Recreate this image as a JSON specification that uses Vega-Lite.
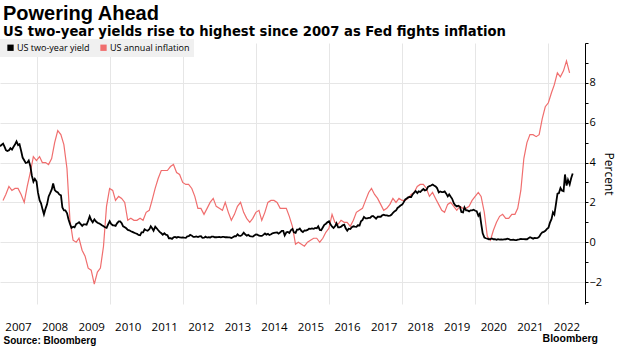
{
  "$schema": "https://vega.github.io/schema/vega-lite/v6.json",
  "width": 585,
  "height": 261,
  "padding": {"left": 0, "top": 3, "right": 0, "bottom": 0},
  "background": "white",
  "title": {
    "text": "Powering Ahead",
    "subtitle": "US two-year yields rise to highest since 2007 as Fed fights inflation",
    "anchor": "start",
    "font": "Liberation Sans",
    "fontSize": 20,
    "fontWeight": "bold",
    "color": "#000000",
    "subtitleFont": "DejaVu Sans",
    "subtitleFontSize": 13.2,
    "subtitleFontWeight": "bold",
    "subtitleColor": "#000000",
    "subtitlePadding": 2,
    "offset": 1,
    "dx": 3
  },
  "config": {
    "view": {"stroke": null},
    "axis": {"labelFont": "Open Sans", "titleFont": "Liberation Sans"}
  },
  "resolve": {"axis": {"x": "independent", "y": "independent"}},
  "layer": [
    {
      "data": {
        "format": {"parse": {"d": "date:'%Y-%m-%d'"}},
        "values": [
          {"d":"2007-01-31","v":2.1},{"d":"2007-02-28","v":2.4},{"d":"2007-03-31","v":2.8},{"d":"2007-04-30","v":2.6},{"d":"2007-05-31","v":2.7},{"d":"2007-06-30","v":2.7},{"d":"2007-07-31","v":2.4},{"d":"2007-08-31","v":2.0},{"d":"2007-09-30","v":2.8},{"d":"2007-10-31","v":3.5},{"d":"2007-11-30","v":4.3},{"d":"2007-12-31","v":4.1},
          {"d":"2008-01-31","v":4.3},{"d":"2008-02-28","v":4.0},{"d":"2008-03-31","v":4.0},{"d":"2008-04-30","v":3.9},{"d":"2008-05-31","v":4.2},{"d":"2008-06-30","v":5.0},{"d":"2008-07-31","v":5.6},{"d":"2008-08-31","v":5.4},{"d":"2008-09-30","v":4.9},{"d":"2008-10-31","v":3.7},{"d":"2008-11-30","v":1.1},{"d":"2008-12-31","v":0.1},
          {"d":"2009-01-31","v":0.0},{"d":"2009-02-28","v":0.2},{"d":"2009-03-31","v":-0.4},{"d":"2009-04-30","v":-0.7},{"d":"2009-05-31","v":-1.3},{"d":"2009-06-30","v":-1.4},{"d":"2009-07-31","v":-2.1},{"d":"2009-08-31","v":-1.5},{"d":"2009-09-30","v":-1.3},{"d":"2009-10-31","v":-0.2},{"d":"2009-11-30","v":1.8},{"d":"2009-12-31","v":2.7},
          {"d":"2010-01-31","v":2.6},{"d":"2010-02-28","v":2.1},{"d":"2010-03-31","v":2.3},{"d":"2010-04-30","v":2.2},{"d":"2010-05-31","v":2.0},{"d":"2010-06-30","v":1.1},{"d":"2010-07-31","v":1.2},{"d":"2010-08-31","v":1.1},{"d":"2010-09-30","v":1.1},{"d":"2010-10-31","v":1.2},{"d":"2010-11-30","v":1.1},{"d":"2010-12-31","v":1.5},
          {"d":"2011-01-31","v":1.6},{"d":"2011-02-28","v":2.1},{"d":"2011-03-31","v":2.7},{"d":"2011-04-30","v":3.2},{"d":"2011-05-31","v":3.6},{"d":"2011-06-30","v":3.6},{"d":"2011-07-31","v":3.6},{"d":"2011-08-31","v":3.8},{"d":"2011-09-30","v":3.9},{"d":"2011-10-31","v":3.5},{"d":"2011-11-30","v":3.4},{"d":"2011-12-31","v":3.0},
          {"d":"2012-01-31","v":2.9},{"d":"2012-02-28","v":2.9},{"d":"2012-03-31","v":2.7},{"d":"2012-04-30","v":2.3},{"d":"2012-05-31","v":1.7},{"d":"2012-06-30","v":1.7},{"d":"2012-07-31","v":1.4},{"d":"2012-08-31","v":1.7},{"d":"2012-09-30","v":2.0},{"d":"2012-10-31","v":2.2},{"d":"2012-11-30","v":1.8},{"d":"2012-12-31","v":1.7},
          {"d":"2013-01-31","v":1.6},{"d":"2013-02-28","v":2.0},{"d":"2013-03-31","v":1.5},{"d":"2013-04-30","v":1.1},{"d":"2013-05-31","v":1.4},{"d":"2013-06-30","v":1.8},{"d":"2013-07-31","v":2.0},{"d":"2013-08-31","v":1.5},{"d":"2013-09-30","v":1.2},{"d":"2013-10-31","v":1.0},{"d":"2013-11-30","v":1.2},{"d":"2013-12-31","v":1.5},
          {"d":"2014-01-31","v":1.6},{"d":"2014-02-28","v":1.1},{"d":"2014-03-31","v":1.5},{"d":"2014-04-30","v":2.0},{"d":"2014-05-31","v":2.1},{"d":"2014-06-30","v":2.1},{"d":"2014-07-31","v":2.0},{"d":"2014-08-31","v":1.7},{"d":"2014-09-30","v":1.7},{"d":"2014-10-31","v":1.7},{"d":"2014-11-30","v":1.3},{"d":"2014-12-31","v":0.8},
          {"d":"2015-01-31","v":-0.1},{"d":"2015-02-28","v":0.0},{"d":"2015-03-31","v":-0.1},{"d":"2015-04-30","v":-0.2},{"d":"2015-05-31","v":0.0},{"d":"2015-06-30","v":0.1},{"d":"2015-07-31","v":0.2},{"d":"2015-08-31","v":0.2},{"d":"2015-09-30","v":0.0},{"d":"2015-10-31","v":0.2},{"d":"2015-11-30","v":0.5},{"d":"2015-12-31","v":0.7},
          {"d":"2016-01-31","v":1.4},{"d":"2016-02-28","v":1.0},{"d":"2016-03-31","v":0.9},{"d":"2016-04-30","v":1.1},{"d":"2016-05-31","v":1.0},{"d":"2016-06-30","v":1.0},{"d":"2016-07-31","v":0.8},{"d":"2016-08-31","v":1.1},{"d":"2016-09-30","v":1.5},{"d":"2016-10-31","v":1.6},{"d":"2016-11-30","v":1.7},{"d":"2016-12-31","v":2.1},
          {"d":"2017-01-31","v":2.5},{"d":"2017-02-28","v":2.7},{"d":"2017-03-31","v":2.4},{"d":"2017-04-30","v":2.2},{"d":"2017-05-31","v":1.9},{"d":"2017-06-30","v":1.6},{"d":"2017-07-31","v":1.7},{"d":"2017-08-31","v":1.9},{"d":"2017-09-30","v":2.2},{"d":"2017-10-31","v":2.0},{"d":"2017-11-30","v":2.2},{"d":"2017-12-31","v":2.1},
          {"d":"2018-01-31","v":2.1},{"d":"2018-02-28","v":2.2},{"d":"2018-03-31","v":2.4},{"d":"2018-04-30","v":2.5},{"d":"2018-05-31","v":2.8},{"d":"2018-06-30","v":2.9},{"d":"2018-07-31","v":2.9},{"d":"2018-08-31","v":2.7},{"d":"2018-09-30","v":2.3},{"d":"2018-10-31","v":2.5},{"d":"2018-11-30","v":2.2},{"d":"2018-12-31","v":1.9},
          {"d":"2019-01-31","v":1.6},{"d":"2019-02-28","v":1.5},{"d":"2019-03-31","v":1.9},{"d":"2019-04-30","v":2.0},{"d":"2019-05-31","v":1.8},{"d":"2019-06-30","v":1.6},{"d":"2019-07-31","v":1.8},{"d":"2019-08-31","v":1.7},{"d":"2019-09-30","v":1.7},{"d":"2019-10-31","v":1.8},{"d":"2019-11-30","v":2.1},{"d":"2019-12-31","v":2.3},
          {"d":"2020-01-31","v":2.5},{"d":"2020-02-28","v":2.3},{"d":"2020-03-31","v":1.5},{"d":"2020-04-30","v":0.3},{"d":"2020-05-31","v":0.1},{"d":"2020-06-30","v":0.6},{"d":"2020-07-31","v":1.0},{"d":"2020-08-31","v":1.3},{"d":"2020-09-30","v":1.4},{"d":"2020-10-31","v":1.2},{"d":"2020-11-30","v":1.2},{"d":"2020-12-31","v":1.4},
          {"d":"2021-01-31","v":1.4},{"d":"2021-02-28","v":1.7},{"d":"2021-03-31","v":2.6},{"d":"2021-04-30","v":4.2},{"d":"2021-05-31","v":5.0},{"d":"2021-06-30","v":5.4},{"d":"2021-07-31","v":5.4},{"d":"2021-08-31","v":5.3},{"d":"2021-09-30","v":5.4},{"d":"2021-10-31","v":6.2},{"d":"2021-11-30","v":6.8},{"d":"2021-12-31","v":7.0},
          {"d":"2022-01-31","v":7.5},{"d":"2022-02-28","v":7.9},{"d":"2022-03-31","v":8.5},{"d":"2022-04-30","v":8.3},{"d":"2022-05-31","v":8.6},{"d":"2022-06-30","v":9.1},{"d":"2022-07-31","v":8.5}
        ]
      },
      "mark": {"type": "line", "strokeWidth": 1.2, "clip": true},
      "encoding": {
        "x": {
          "field": "d",
          "type": "temporal",
          "scale": {"domain": [{"year": 2007}, {"year": 2023}]},
          "axis": {
            "orient": "bottom",
            "values": [{"year":2008},{"year":2010},{"year":2012},{"year":2014},{"year":2016},{"year":2018},{"year":2020},{"year":2022}],
            "grid": true,
            "gridColor": "#e6e6e6",
            "gridWidth": 1,
            "labels": false,
            "ticks": false,
            "domain": false,
            "title": null
          }
        },
        "y": {
          "field": "v",
          "type": "quantitative",
          "scale": {"domain": [-3.1, 10], "nice": false, "zero": false},
          "axis": {
            "orient": "right",
            "values": [-2, 0, 2, 4, 6, 8],
            "labelFontSize": 11,
            "labelColor": "#000000",
            "labelPadding": 1,
            "labelOverlap": false,
            "domainColor": "#000000",
            "tickColor": "#000000",
            "tickSize": 3,
            "grid": true,
            "gridColor": "#e6e6e6",
            "title": "Percent",
            "titleFont": "Open Sans",
            "titleFontSize": 12,
            "titleFontWeight": "normal",
            "titleColor": "#000000",
            "titlePadding": 0
          }
        },
        "color": {
          "datum": "US annual inflation",
          "scale": {"domain": ["US two-year yield", "US annual inflation"], "range": ["#000000", "#f06e6e"]},
          "legend": {
            "title": null,
            "orient": "none",
            "legendX": 0,
            "legendY": -4,
            "direction": "horizontal",
            "fillColor": "#f0f0f0",
            "padding": 4,
            "symbolType": "square",
            "symbolSize": 40,
            "symbolOffset": 2,
            "labelFont": "Open Sans",
            "labelFontSize": 9,
            "labelColor": "#000000",
            "labelOffset": 2,
            "columnPadding": 7,
            "encode": {"symbols": {"update": {"fill": {"scale": "color", "field": "value"}, "stroke": {"value": "transparent"}, "strokeWidth": {"value": 0}}}}
          }
        }
      }
    },
    {
      "data": {
        "format": {"parse": {"d": "date:'%Y-%m-%d'"}},
        "values": [
          {"d":"2007-01-01","v":4.82},{"d":"2007-01-15","v":4.88},{"d":"2007-02-01","v":4.95},{"d":"2007-02-15","v":4.80},{"d":"2007-03-01","v":4.62},{"d":"2007-03-15","v":4.58},{"d":"2007-04-01","v":4.62},{"d":"2007-04-15","v":4.72},{"d":"2007-05-01","v":4.65},{"d":"2007-05-15","v":4.78},{"d":"2007-06-01","v":4.92},{"d":"2007-06-15","v":5.06},{"d":"2007-07-01","v":4.87},{"d":"2007-07-15","v":4.92},{"d":"2007-08-01","v":4.57},{"d":"2007-08-15","v":4.25},{"d":"2007-09-01","v":4.10},{"d":"2007-09-15","v":3.98},{"d":"2007-10-01","v":4.00},{"d":"2007-10-15","v":4.10},{"d":"2007-11-01","v":3.80},{"d":"2007-11-15","v":3.35},{"d":"2007-12-01","v":3.04},{"d":"2007-12-15","v":3.18},
          {"d":"2008-01-01","v":3.05},{"d":"2008-01-15","v":2.50},{"d":"2008-02-01","v":2.10},{"d":"2008-02-15","v":1.95},{"d":"2008-03-01","v":1.65},{"d":"2008-03-15","v":1.40},{"d":"2008-04-01","v":1.70},{"d":"2008-04-15","v":1.90},{"d":"2008-05-01","v":2.30},{"d":"2008-05-15","v":2.45},{"d":"2008-06-01","v":2.65},{"d":"2008-06-15","v":2.95},{"d":"2008-07-01","v":2.62},{"d":"2008-07-15","v":2.55},{"d":"2008-08-01","v":2.50},{"d":"2008-08-15","v":2.40},{"d":"2008-09-01","v":2.35},{"d":"2008-09-15","v":1.75},{"d":"2008-10-01","v":1.60},{"d":"2008-10-15","v":1.60},{"d":"2008-11-01","v":1.45},{"d":"2008-11-15","v":1.15},{"d":"2008-12-01","v":0.90},{"d":"2008-12-15","v":0.72},
          {"d":"2009-01-01","v":0.78},{"d":"2009-01-15","v":0.75},{"d":"2009-02-01","v":0.92},{"d":"2009-02-15","v":0.95},{"d":"2009-03-01","v":1.00},{"d":"2009-03-15","v":0.92},{"d":"2009-04-01","v":0.82},{"d":"2009-04-15","v":0.90},{"d":"2009-05-01","v":0.90},{"d":"2009-05-15","v":0.88},{"d":"2009-06-01","v":1.10},{"d":"2009-06-15","v":1.30},{"d":"2009-07-01","v":1.10},{"d":"2009-07-15","v":1.00},{"d":"2009-08-01","v":1.15},{"d":"2009-08-15","v":1.05},{"d":"2009-09-01","v":0.98},{"d":"2009-09-15","v":0.95},{"d":"2009-10-01","v":0.90},{"d":"2009-10-15","v":0.85},{"d":"2009-11-01","v":0.80},{"d":"2009-11-15","v":0.75},{"d":"2009-12-01","v":0.72},{"d":"2009-12-15","v":0.88},
          {"d":"2010-01-01","v":1.05},{"d":"2010-01-15","v":0.92},{"d":"2010-02-01","v":0.85},{"d":"2010-02-15","v":0.85},{"d":"2010-03-01","v":0.82},{"d":"2010-03-15","v":0.95},{"d":"2010-04-01","v":1.05},{"d":"2010-04-15","v":1.05},{"d":"2010-05-01","v":0.95},{"d":"2010-05-15","v":0.80},{"d":"2010-06-01","v":0.75},{"d":"2010-06-15","v":0.70},{"d":"2010-07-01","v":0.62},{"d":"2010-07-15","v":0.60},{"d":"2010-08-01","v":0.55},{"d":"2010-08-15","v":0.52},{"d":"2010-09-01","v":0.48},{"d":"2010-09-15","v":0.45},{"d":"2010-10-01","v":0.42},{"d":"2010-10-15","v":0.37},{"d":"2010-11-01","v":0.35},{"d":"2010-11-15","v":0.50},{"d":"2010-12-01","v":0.50},{"d":"2010-12-15","v":0.65},
          {"d":"2011-01-01","v":0.60},{"d":"2011-01-15","v":0.58},{"d":"2011-02-01","v":0.65},{"d":"2011-02-15","v":0.80},{"d":"2011-03-01","v":0.70},{"d":"2011-03-15","v":0.58},{"d":"2011-04-01","v":0.78},{"d":"2011-04-15","v":0.70},{"d":"2011-05-01","v":0.60},{"d":"2011-05-15","v":0.52},{"d":"2011-06-01","v":0.45},{"d":"2011-06-15","v":0.38},{"d":"2011-07-01","v":0.45},{"d":"2011-07-15","v":0.38},{"d":"2011-08-01","v":0.35},{"d":"2011-08-15","v":0.20},{"d":"2011-09-01","v":0.20},{"d":"2011-09-15","v":0.17},{"d":"2011-10-01","v":0.25},{"d":"2011-10-15","v":0.27},{"d":"2011-11-01","v":0.23},{"d":"2011-11-15","v":0.27},{"d":"2011-12-01","v":0.25},{"d":"2011-12-15","v":0.23},
          {"d":"2012-01-01","v":0.24},{"d":"2012-01-15","v":0.23},{"d":"2012-02-01","v":0.22},{"d":"2012-02-15","v":0.29},{"d":"2012-03-01","v":0.30},{"d":"2012-03-15","v":0.37},{"d":"2012-04-01","v":0.33},{"d":"2012-04-15","v":0.27},{"d":"2012-05-01","v":0.27},{"d":"2012-05-15","v":0.29},{"d":"2012-06-01","v":0.26},{"d":"2012-06-15","v":0.29},{"d":"2012-07-01","v":0.30},{"d":"2012-07-15","v":0.22},{"d":"2012-08-01","v":0.23},{"d":"2012-08-15","v":0.28},{"d":"2012-09-01","v":0.23},{"d":"2012-09-15","v":0.25},{"d":"2012-10-01","v":0.24},{"d":"2012-10-15","v":0.28},{"d":"2012-11-01","v":0.28},{"d":"2012-11-15","v":0.25},{"d":"2012-12-01","v":0.25},{"d":"2012-12-15","v":0.26},
          {"d":"2013-01-01","v":0.27},{"d":"2013-01-15","v":0.25},{"d":"2013-02-01","v":0.27},{"d":"2013-02-15","v":0.27},{"d":"2013-03-01","v":0.25},{"d":"2013-03-15","v":0.26},{"d":"2013-04-01","v":0.24},{"d":"2013-04-15","v":0.24},{"d":"2013-05-01","v":0.21},{"d":"2013-05-15","v":0.25},{"d":"2013-06-01","v":0.30},{"d":"2013-06-15","v":0.30},{"d":"2013-07-01","v":0.40},{"d":"2013-07-15","v":0.33},{"d":"2013-08-01","v":0.32},{"d":"2013-08-15","v":0.37},{"d":"2013-09-01","v":0.48},{"d":"2013-09-15","v":0.40},{"d":"2013-10-01","v":0.33},{"d":"2013-10-15","v":0.37},{"d":"2013-11-01","v":0.31},{"d":"2013-11-15","v":0.29},{"d":"2013-12-01","v":0.28},{"d":"2013-12-15","v":0.34},
          {"d":"2014-01-01","v":0.39},{"d":"2014-01-15","v":0.38},{"d":"2014-02-01","v":0.33},{"d":"2014-02-15","v":0.32},{"d":"2014-03-01","v":0.32},{"d":"2014-03-15","v":0.37},{"d":"2014-04-01","v":0.44},{"d":"2014-04-15","v":0.38},{"d":"2014-05-01","v":0.42},{"d":"2014-05-15","v":0.36},{"d":"2014-06-01","v":0.40},{"d":"2014-06-15","v":0.45},{"d":"2014-07-01","v":0.47},{"d":"2014-07-15","v":0.48},{"d":"2014-08-01","v":0.49},{"d":"2014-08-15","v":0.43},{"d":"2014-09-01","v":0.50},{"d":"2014-09-15","v":0.57},{"d":"2014-10-01","v":0.57},{"d":"2014-10-15","v":0.34},{"d":"2014-11-01","v":0.50},{"d":"2014-11-15","v":0.52},{"d":"2014-12-01","v":0.47},{"d":"2014-12-15","v":0.60},
          {"d":"2015-01-01","v":0.67},{"d":"2015-01-15","v":0.50},{"d":"2015-02-01","v":0.47},{"d":"2015-02-15","v":0.63},{"d":"2015-03-01","v":0.63},{"d":"2015-03-15","v":0.69},{"d":"2015-04-01","v":0.56},{"d":"2015-04-15","v":0.51},{"d":"2015-05-01","v":0.59},{"d":"2015-05-15","v":0.58},{"d":"2015-06-01","v":0.62},{"d":"2015-06-15","v":0.68},{"d":"2015-07-01","v":0.67},{"d":"2015-07-15","v":0.69},{"d":"2015-08-01","v":0.67},{"d":"2015-08-15","v":0.72},{"d":"2015-09-01","v":0.70},{"d":"2015-09-15","v":0.80},{"d":"2015-10-01","v":0.62},{"d":"2015-10-15","v":0.60},{"d":"2015-11-01","v":0.75},{"d":"2015-11-15","v":0.87},{"d":"2015-12-01","v":0.93},{"d":"2015-12-15","v":1.00},
          {"d":"2016-01-01","v":1.05},{"d":"2016-01-15","v":0.90},{"d":"2016-02-01","v":0.78},{"d":"2016-02-15","v":0.72},{"d":"2016-03-01","v":0.80},{"d":"2016-03-15","v":0.95},{"d":"2016-04-01","v":0.75},{"d":"2016-04-15","v":0.75},{"d":"2016-05-01","v":0.78},{"d":"2016-05-15","v":0.85},{"d":"2016-06-01","v":0.88},{"d":"2016-06-15","v":0.70},{"d":"2016-07-01","v":0.58},{"d":"2016-07-15","v":0.68},{"d":"2016-08-01","v":0.66},{"d":"2016-08-15","v":0.75},{"d":"2016-09-01","v":0.80},{"d":"2016-09-15","v":0.78},{"d":"2016-10-01","v":0.77},{"d":"2016-10-15","v":0.85},{"d":"2016-11-01","v":0.84},{"d":"2016-11-15","v":1.05},{"d":"2016-12-01","v":1.12},{"d":"2016-12-15","v":1.27},
          {"d":"2017-01-01","v":1.20},{"d":"2017-01-15","v":1.20},{"d":"2017-02-01","v":1.22},{"d":"2017-02-15","v":1.22},{"d":"2017-03-01","v":1.30},{"d":"2017-03-15","v":1.32},{"d":"2017-04-01","v":1.25},{"d":"2017-04-15","v":1.18},{"d":"2017-05-01","v":1.28},{"d":"2017-05-15","v":1.28},{"d":"2017-06-01","v":1.28},{"d":"2017-06-15","v":1.35},{"d":"2017-07-01","v":1.38},{"d":"2017-07-15","v":1.35},{"d":"2017-08-01","v":1.35},{"d":"2017-08-15","v":1.32},{"d":"2017-09-01","v":1.33},{"d":"2017-09-15","v":1.38},{"d":"2017-10-01","v":1.48},{"d":"2017-10-15","v":1.55},{"d":"2017-11-01","v":1.60},{"d":"2017-11-15","v":1.72},{"d":"2017-12-01","v":1.78},{"d":"2017-12-15","v":1.84},
          {"d":"2018-01-01","v":1.89},{"d":"2018-01-15","v":2.00},{"d":"2018-02-01","v":2.15},{"d":"2018-02-15","v":2.20},{"d":"2018-03-01","v":2.25},{"d":"2018-03-15","v":2.28},{"d":"2018-04-01","v":2.27},{"d":"2018-04-15","v":2.40},{"d":"2018-05-01","v":2.49},{"d":"2018-05-15","v":2.57},{"d":"2018-06-01","v":2.47},{"d":"2018-06-15","v":2.55},{"d":"2018-07-01","v":2.52},{"d":"2018-07-15","v":2.60},{"d":"2018-08-01","v":2.67},{"d":"2018-08-15","v":2.60},{"d":"2018-09-01","v":2.63},{"d":"2018-09-15","v":2.78},{"d":"2018-10-01","v":2.82},{"d":"2018-10-15","v":2.85},{"d":"2018-11-01","v":2.90},{"d":"2018-11-15","v":2.85},{"d":"2018-12-01","v":2.80},{"d":"2018-12-15","v":2.72},
          {"d":"2019-01-01","v":2.50},{"d":"2019-01-15","v":2.55},{"d":"2019-02-01","v":2.52},{"d":"2019-02-15","v":2.52},{"d":"2019-03-01","v":2.55},{"d":"2019-03-15","v":2.45},{"d":"2019-04-01","v":2.30},{"d":"2019-04-15","v":2.40},{"d":"2019-05-01","v":2.28},{"d":"2019-05-15","v":2.18},{"d":"2019-06-01","v":1.95},{"d":"2019-06-15","v":1.85},{"d":"2019-07-01","v":1.80},{"d":"2019-07-15","v":1.83},{"d":"2019-08-01","v":1.78},{"d":"2019-08-15","v":1.52},{"d":"2019-09-01","v":1.50},{"d":"2019-09-15","v":1.75},{"d":"2019-10-01","v":1.60},{"d":"2019-10-15","v":1.60},{"d":"2019-11-01","v":1.55},{"d":"2019-11-15","v":1.60},{"d":"2019-12-01","v":1.60},{"d":"2019-12-15","v":1.63},
          {"d":"2020-01-01","v":1.58},{"d":"2020-01-15","v":1.56},{"d":"2020-02-01","v":1.33},{"d":"2020-02-15","v":1.43},{"d":"2020-03-01","v":0.90},{"d":"2020-03-15","v":0.45},{"d":"2020-04-01","v":0.23},{"d":"2020-04-15","v":0.20},{"d":"2020-05-01","v":0.18},{"d":"2020-05-15","v":0.15},{"d":"2020-06-01","v":0.16},{"d":"2020-06-15","v":0.19},{"d":"2020-07-01","v":0.15},{"d":"2020-07-15","v":0.15},{"d":"2020-08-01","v":0.12},{"d":"2020-08-15","v":0.15},{"d":"2020-09-01","v":0.13},{"d":"2020-09-15","v":0.14},{"d":"2020-10-01","v":0.13},{"d":"2020-10-15","v":0.14},{"d":"2020-11-01","v":0.15},{"d":"2020-11-15","v":0.18},{"d":"2020-12-01","v":0.16},{"d":"2020-12-15","v":0.12},
          {"d":"2021-01-01","v":0.12},{"d":"2021-01-15","v":0.13},{"d":"2021-02-01","v":0.11},{"d":"2021-02-15","v":0.11},{"d":"2021-03-01","v":0.13},{"d":"2021-03-15","v":0.14},{"d":"2021-04-01","v":0.17},{"d":"2021-04-15","v":0.16},{"d":"2021-05-01","v":0.16},{"d":"2021-05-15","v":0.15},{"d":"2021-06-01","v":0.15},{"d":"2021-06-15","v":0.20},{"d":"2021-07-01","v":0.25},{"d":"2021-07-15","v":0.22},{"d":"2021-08-01","v":0.18},{"d":"2021-08-15","v":0.22},{"d":"2021-09-01","v":0.21},{"d":"2021-09-15","v":0.22},{"d":"2021-10-01","v":0.28},{"d":"2021-10-15","v":0.40},{"d":"2021-11-01","v":0.50},{"d":"2021-11-15","v":0.52},{"d":"2021-12-01","v":0.57},{"d":"2021-12-15","v":0.66},
          {"d":"2022-01-01","v":0.73},{"d":"2022-01-15","v":0.97},{"d":"2022-02-01","v":1.17},{"d":"2022-02-15","v":1.50},{"d":"2022-03-01","v":1.39},{"d":"2022-03-15","v":1.85},{"d":"2022-04-01","v":2.44},{"d":"2022-04-15","v":2.46},{"d":"2022-05-01","v":2.72},{"d":"2022-05-15","v":2.60},{"d":"2022-06-01","v":2.56},{"d":"2022-06-15","v":3.40},{"d":"2022-07-01","v":2.84},{"d":"2022-07-15","v":3.13},{"d":"2022-08-01","v":2.90},{"d":"2022-08-15","v":3.20},{"d":"2022-08-31","v":3.45}
        ]
      },
      "mark": {"type": "line", "strokeWidth": 1.8, "clip": true},
      "encoding": {
        "x": {
          "field": "d",
          "type": "temporal",
          "axis": {
            "orient": "bottom",
            "values": [{"year":2007},{"year":2008},{"year":2009},{"year":2010},{"year":2011},{"year":2012},{"year":2013},{"year":2014},{"year":2015},{"year":2016},{"year":2017},{"year":2018},{"year":2019},{"year":2020},{"year":2021},{"year":2022}],
            "format": "%Y",
            "labelOffset": 18,
            "labelFontSize": 11.5,
            "labelColor": "#000000",
            "labelPadding": 17,
            "labelOverlap": false,
            "labelFlush": false,
            "labelBound": false,
            "domain": false,
            "ticks": false,
            "grid": false,
            "title": "Source: Bloomberg",
            "titleFont": "Liberation Sans",
            "titleFontSize": 10,
            "titleFontWeight": "bold",
            "titleColor": "#000000",
            "titleAnchor": "start",
            "titleAlign": "left",
            "titlePadding": 3,
            "titleX": 3
          }
        },
        "y": {
          "field": "v",
          "type": "quantitative",
          "axis": {
            "orient": "right",
            "values": [-3, -1, 1, 3, 5, 7, 9, 10],
            "grid": false,
            "labels": false,
            "domain": false,
            "ticks": true,
            "tickSize": 3,
            "tickColor": "#000000",
            "title": null
          }
        },
        "color": {"datum": "US two-year yield"}
      }
    },
    {
      "data": {"values": [{"label": "Bloomberg"}]},
      "mark": {"type": "text", "font": "Liberation Sans", "fontSize": 10.5, "fontWeight": "bold", "align": "right", "baseline": "alphabetic", "dx": 13, "dy": 38, "color": "#000000", "clip": false},
      "encoding": {
        "x": {"datum": {"year": 2023}, "type": "temporal", "axis": null},
        "y": {"datum": -3.1, "type": "quantitative", "axis": null},
        "text": {"field": "label"}
      }
    }
  ]
}
